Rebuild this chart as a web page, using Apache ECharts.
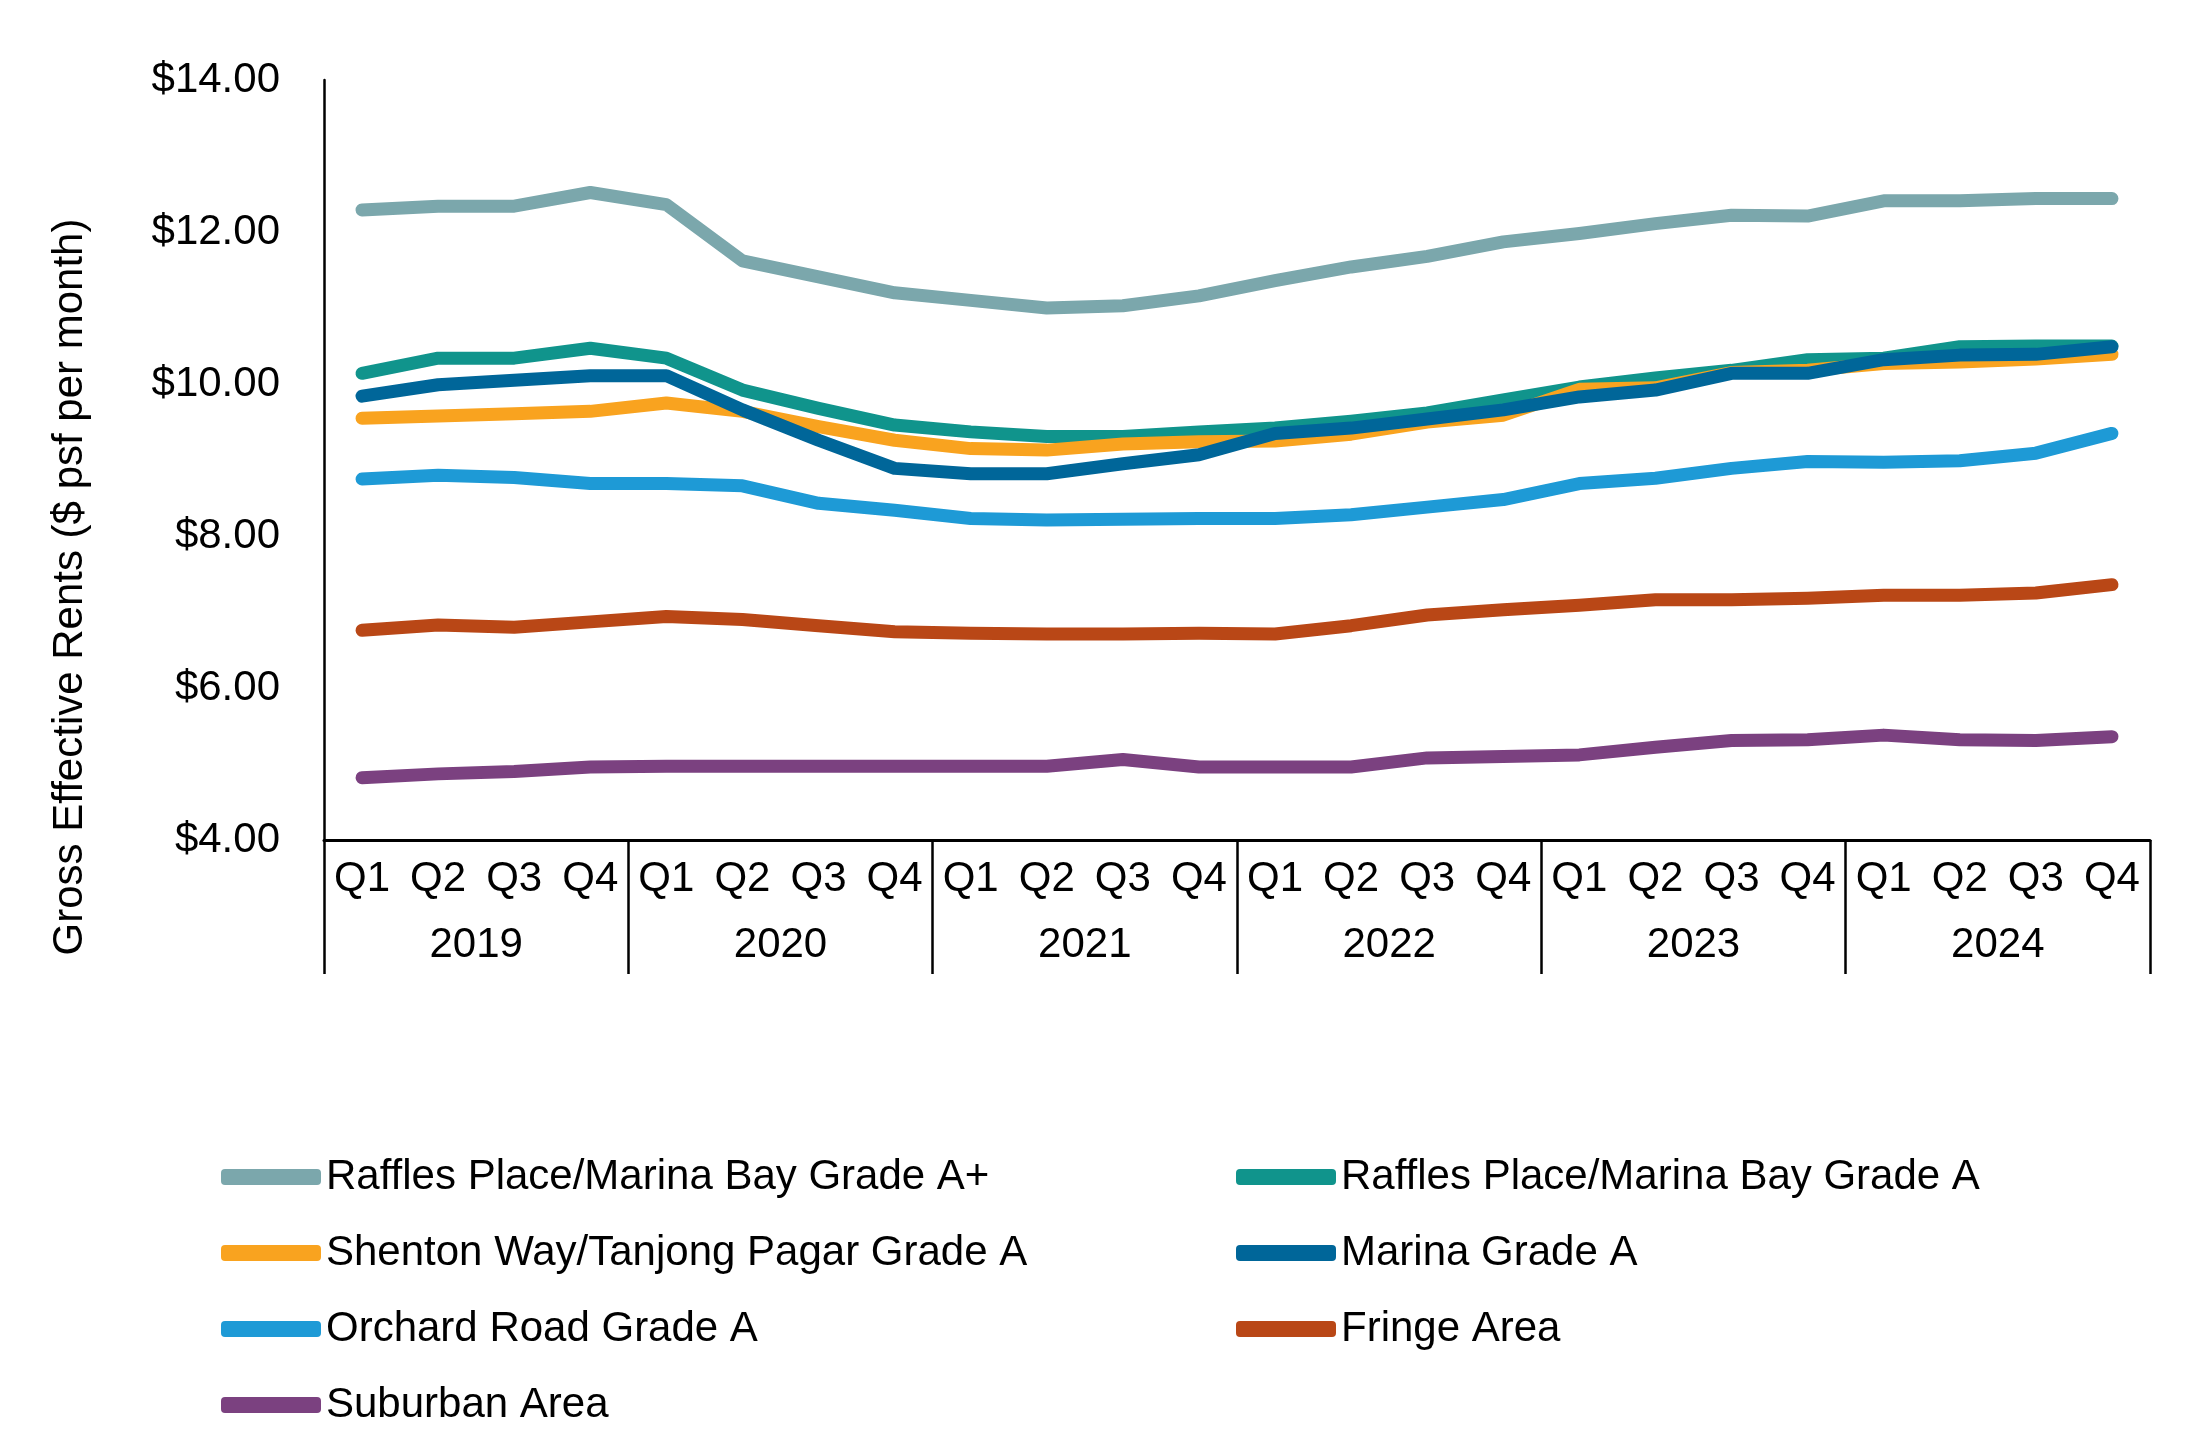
<!DOCTYPE html>
<html>
<head>
<meta charset="utf-8">
<title>Gross Effective Rents</title>
<script src="https://cdn.jsdelivr.net/npm/echarts@6/dist/echarts.min.js"></script>
<style>
  html, body { margin: 0; padding: 0; background: #fff; }
  #chart { width: 2195px; height: 1448px; }
</style>
</head>
<body>
<div id="chart"></div>
<script>
const years = ['2019', '2020', '2021', '2022', '2023', '2024']
const quarters = ['Q1', 'Q2', 'Q3', 'Q4']
const yTicks = { min: 4, max: 14, step: 2 }

const raffAPlus = [12.29, 12.34, 12.34, 12.52, 12.36, 11.62, 11.41, 11.20, 11.10, 11.00, 11.03, 11.16,
  11.36, 11.54, 11.68, 11.87, 11.98, 12.11, 12.22, 12.21, 12.41, 12.41, 12.44, 12.44]
const raffA = [10.14, 10.34, 10.34, 10.47, 10.34, 9.92, 9.68, 9.46, 9.37, 9.31, 9.31, 9.37,
  9.42, 9.51, 9.62, 9.79, 9.96, 10.08, 10.18, 10.32, 10.34, 10.49, 10.50, 10.50]
const shenton = [9.55, 9.58, 9.61, 9.64, 9.75, 9.64, 9.44, 9.26, 9.15, 9.13, 9.21, 9.24,
  9.25, 9.34, 9.50, 9.59, 9.93, 9.95, 10.15, 10.18, 10.27, 10.29, 10.33, 10.39]
const marina = [9.84, 9.99, 10.05, 10.11, 10.11, 9.66, 9.26, 8.89, 8.82, 8.82, 8.95, 9.07,
  9.35, 9.42, 9.54, 9.66, 9.83, 9.92, 10.14, 10.14, 10.32, 10.38, 10.39, 10.49]
const orchard = [8.75, 8.80, 8.77, 8.69, 8.69, 8.66, 8.43, 8.34, 8.23, 8.21, 8.22, 8.23,
  8.23, 8.28, 8.38, 8.48, 8.69, 8.76, 8.89, 8.98, 8.97, 8.99, 9.09, 9.35]
const fringe = [6.76, 6.83, 6.80, 6.87, 6.94, 6.90, 6.82, 6.74, 6.72, 6.71, 6.71, 6.72,
  6.71, 6.82, 6.96, 7.03, 7.09, 7.16, 7.16, 7.18, 7.22, 7.22, 7.25, 7.36]
const suburban = [4.82, 4.87, 4.90, 4.96, 4.97, 4.97, 4.97, 4.97, 4.97, 4.97, 5.06, 4.96,
  4.96, 4.96, 5.08, 5.10, 5.12, 5.22, 5.31, 5.32, 5.38, 5.32, 5.31, 5.36]

const seriesDefs = [
  { name: 'Raffles Place/Marina Bay Grade A+', data: raffAPlus, color: '#7ba7ac' },
  { name: 'Raffles Place/Marina Bay Grade A', data: raffA, color: '#10948c' },
  { name: 'Shenton Way/Tanjong Pagar Grade A', data: shenton, color: '#f9a31f' },
  { name: 'Marina Grade A', data: marina, color: '#006699' },
  { name: 'Orchard Road Grade A', data: orchard, color: '#1e9ad6' },
  { name: 'Fringe Area', data: fringe, color: '#b94716' },
  { name: 'Suburban Area', data: suburban, color: '#7b4180' }
]

const categories = []
years.forEach(y => quarters.forEach(q => categories.push(y + ' ' + q)))

const font = '"Liberation Sans", Arial, sans-serif'

const node = document.getElementById('chart')
const myChart = echarts.init(node)

const legendBase = {
  orient: 'vertical',
  top: 1151,
  icon: 'roundRect',
  itemWidth: 100,
  itemHeight: 16,
  itemGap: 34,
  textStyle: {
    fontFamily: font,
    fontSize: 42,
    lineHeight: 42,
    color: '#000'
  }
}

const option = {
  animation: false,
  backgroundColor: '#fff',
  grid: {
    left: 324,
    top: 80,
    width: 1826,
    height: 760
  },
  legend: [
    Object.assign({}, legendBase, {
      left: 216,
      data: [seriesDefs[0].name, seriesDefs[2].name, seriesDefs[4].name, seriesDefs[6].name]
    }),
    Object.assign({}, legendBase, {
      left: 1231,
      data: [seriesDefs[1].name, seriesDefs[3].name, seriesDefs[5].name]
    })
  ],
  graphic: [
    {
      type: 'text',
      x: 70,
      y: 587,
      rotation: Math.PI / 2,
      style: {
        text: 'Gross Effective Rents ($ psf per month)',
        fontFamily: font,
        fontSize: 42,
        fill: '#000',
        align: 'center',
        verticalAlign: 'middle'
      }
    }
  ],
  xAxis: [
    {
      type: 'category',
      data: categories,
      boundaryGap: true,
      axisLine: { lineStyle: { color: '#000', width: 3 } },
      axisTick: { show: false },
      axisLabel: {
        interval: 0,
        margin: 18,
        fontFamily: font,
        fontSize: 42,
        color: '#000',
        formatter: v => v.split(' ')[1]
      }
    },
    {
      type: 'category',
      data: years,
      position: 'bottom',
      boundaryGap: true,
      axisLine: { show: false },
      axisTick: {
        show: true,
        interval: 0,
        length: 134,
        lineStyle: { color: '#000', width: 2.5 }
      },
      axisLabel: {
        interval: 0,
        margin: 84,
        fontFamily: font,
        fontSize: 42,
        color: '#000'
      }
    }
  ],
  yAxis: {
    type: 'value',
    min: yTicks.min,
    max: yTicks.max,
    interval: yTicks.step,
    axisLine: { show: true, lineStyle: { color: '#000', width: 2.5 } },
    axisTick: { show: false },
    splitLine: { show: false },
    axisLabel: {
      margin: 44,
      fontFamily: font,
      fontSize: 42,
      color: '#000',
      formatter: v => '$' + v.toFixed(2)
    }
  },
  series: seriesDefs.map(s => ({
    name: s.name,
    type: 'line',
    data: s.data,
    xAxisIndex: 0,
    symbol: 'none',
    color: s.color,
    lineStyle: { width: 13, color: s.color, cap: 'round', join: 'round' },
    emphasis: { disabled: true }
  }))
}

myChart.setOption(option)
</script>
</body>
</html>
